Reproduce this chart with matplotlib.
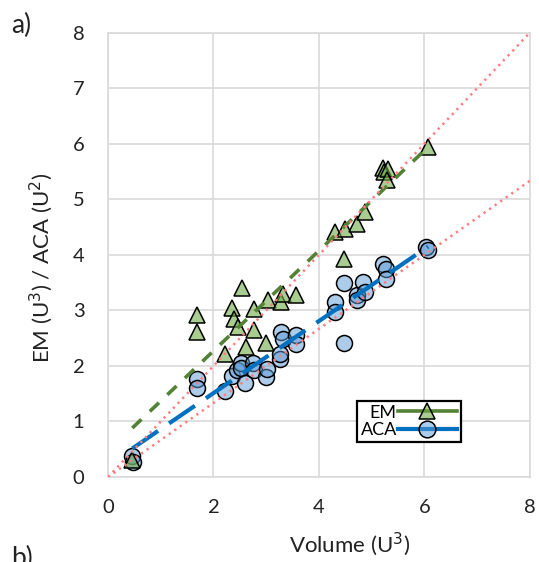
import numpy as np
import matplotlib.pyplot as plt
from matplotlib.lines import Line2D

plt.rcParams['font.family'] = ['Lato', 'DejaVu Sans']

# EM (triangles)
em_vol = [0.46, 1.69, 1.69, 2.22, 2.36, 2.39, 2.47, 2.54, 2.61, 2.76, 2.76, 2.99, 3.03,
          3.29, 3.31, 3.56, 4.31, 4.48, 4.50, 4.73, 4.87, 5.21, 5.24, 5.31, 5.29, 6.07]
em_val = [0.31, 2.91, 2.61, 2.21, 3.05, 2.85, 2.70, 3.40, 2.34, 3.03, 2.65, 2.42, 3.18,
          3.15, 3.30, 3.27, 4.41, 3.93, 4.47, 4.56, 4.78, 5.57, 5.50, 5.55, 5.35, 5.94]

# ACA (circles)
aca_vol = [0.46, 0.47, 1.69, 1.69, 2.22, 2.35, 2.44, 2.52, 2.53, 2.60, 2.75, 2.77, 2.99,
           3.01, 3.27, 3.27, 3.29, 3.31, 3.56, 3.57, 4.30, 4.30, 4.48, 4.48, 4.73, 4.73,
           4.84, 4.87, 5.22, 5.28, 5.28, 6.04, 6.07]
aca_val = [0.38, 0.27, 1.77, 1.61, 1.55, 1.81, 1.92, 2.06, 1.97, 1.70, 2.06, 1.92, 1.80,
           1.95, 2.13, 2.22, 2.61, 2.49, 2.55, 2.40, 3.15, 2.97, 3.50, 2.42, 3.27, 3.18,
           3.51, 3.33, 3.84, 3.75, 3.57, 4.14, 4.08]

# reference lines y = x and y = 2x/3
ref_x = [0, 8]
ref_slopes = [1.0, 2.0 / 3.0]

green = '#548235'
blue = '#0070C0'
tri_face = (0x70 / 255, 0xAD / 255, 0x47 / 255, 0.6)
circ_face = (0x5B / 255, 0x9B / 255, 0xD5 / 255, 0.5)
txt = '#222222'

fig = plt.figure(figsize=(5.39, 5.62), dpi=100)
ax = fig.add_axes([0.2004, 0.1512, 0.7826, 0.7906])

ax.plot(aca_vol, aca_val, 'o', ms=11.5, mfc=circ_face, mec='black', mew=1.1, zorder=2)
ax.plot(em_vol, em_val, '^', ms=11.5, mfc=tri_face, mec='black', mew=1.1, zorder=2.1)

# linear fits
p_em = np.polyfit(em_vol, em_val, 1)
p_aca = np.polyfit(aca_vol, aca_val, 1)
xe = np.array([min(em_vol), max(em_vol)])
xa = np.array([min(aca_vol), max(aca_vol)])
ax.plot(xe, np.polyval(p_em, xe), color=green, lw=2.6, ls=(0, (3.5, 3.2)), zorder=3)
ax.plot(xa, np.polyval(p_aca, xa), color=blue, lw=3, ls=(0, (7.5, 3.2)), zorder=3)

for s in ref_slopes:
    ax.plot(ref_x, [s * v for v in ref_x], color='#FF7C80', lw=1.8,
            ls=(0, (0.9, 1.8)), zorder=4)

ax.set_xlim(0, 8)
ax.set_ylim(0, 8)
ax.set_xticks(range(0, 9, 2))
ax.set_yticks(range(0, 9))
ax.grid(True, color='#D9D9D9', lw=1.2)
ax.set_axisbelow(True)
for sp in ax.spines.values():
    sp.set_color('#D9D9D9')
    sp.set_linewidth(1.2)
ax.tick_params(length=0, labelsize=14.5, colors=txt)
ax.tick_params(axis='x', pad=16)
ax.tick_params(axis='y', pad=17)

ax.set_xlabel('Volume (U$^3$)', fontsize=16, color=txt)
ax.xaxis.set_label_coords(0.573, -0.12)
ax.set_ylabel('EM (U$^3$) / ACA (U$^2$)', fontsize=16, color=txt)
ax.yaxis.set_label_coords(-0.125, 0.47)

h_em = Line2D([], [], color=green, lw=2.6, marker='^', ms=12, mfc=tri_face, mec='black', mew=1.1)
h_aca = Line2D([], [], color=blue, lw=3, marker='o', ms=12, mfc=circ_face, mec='black', mew=1.1)
leg = ax.legend([h_em, h_aca], ['EM', 'ACA'], loc='upper left',
                bbox_to_anchor=(0.59, 0.171), borderaxespad=0, markerfirst=False,
                fontsize=13, handlelength=3.3, handletextpad=0.05, labelspacing=0.1,
                borderpad=0.2, fancybox=False, framealpha=1)
leg.get_frame().set_edgecolor('black')
leg.get_frame().set_linewidth(1.6)

fig.text(0.02, 0.955, 'a)', fontsize=19, color=txt, va='center')
# panel b) label is cut by the bottom edge, as in the source figure
fig.text(0.02, 0.006, 'b)', fontsize=19, color=txt, va='center')

fig.savefig('out.png', dpi=100)
